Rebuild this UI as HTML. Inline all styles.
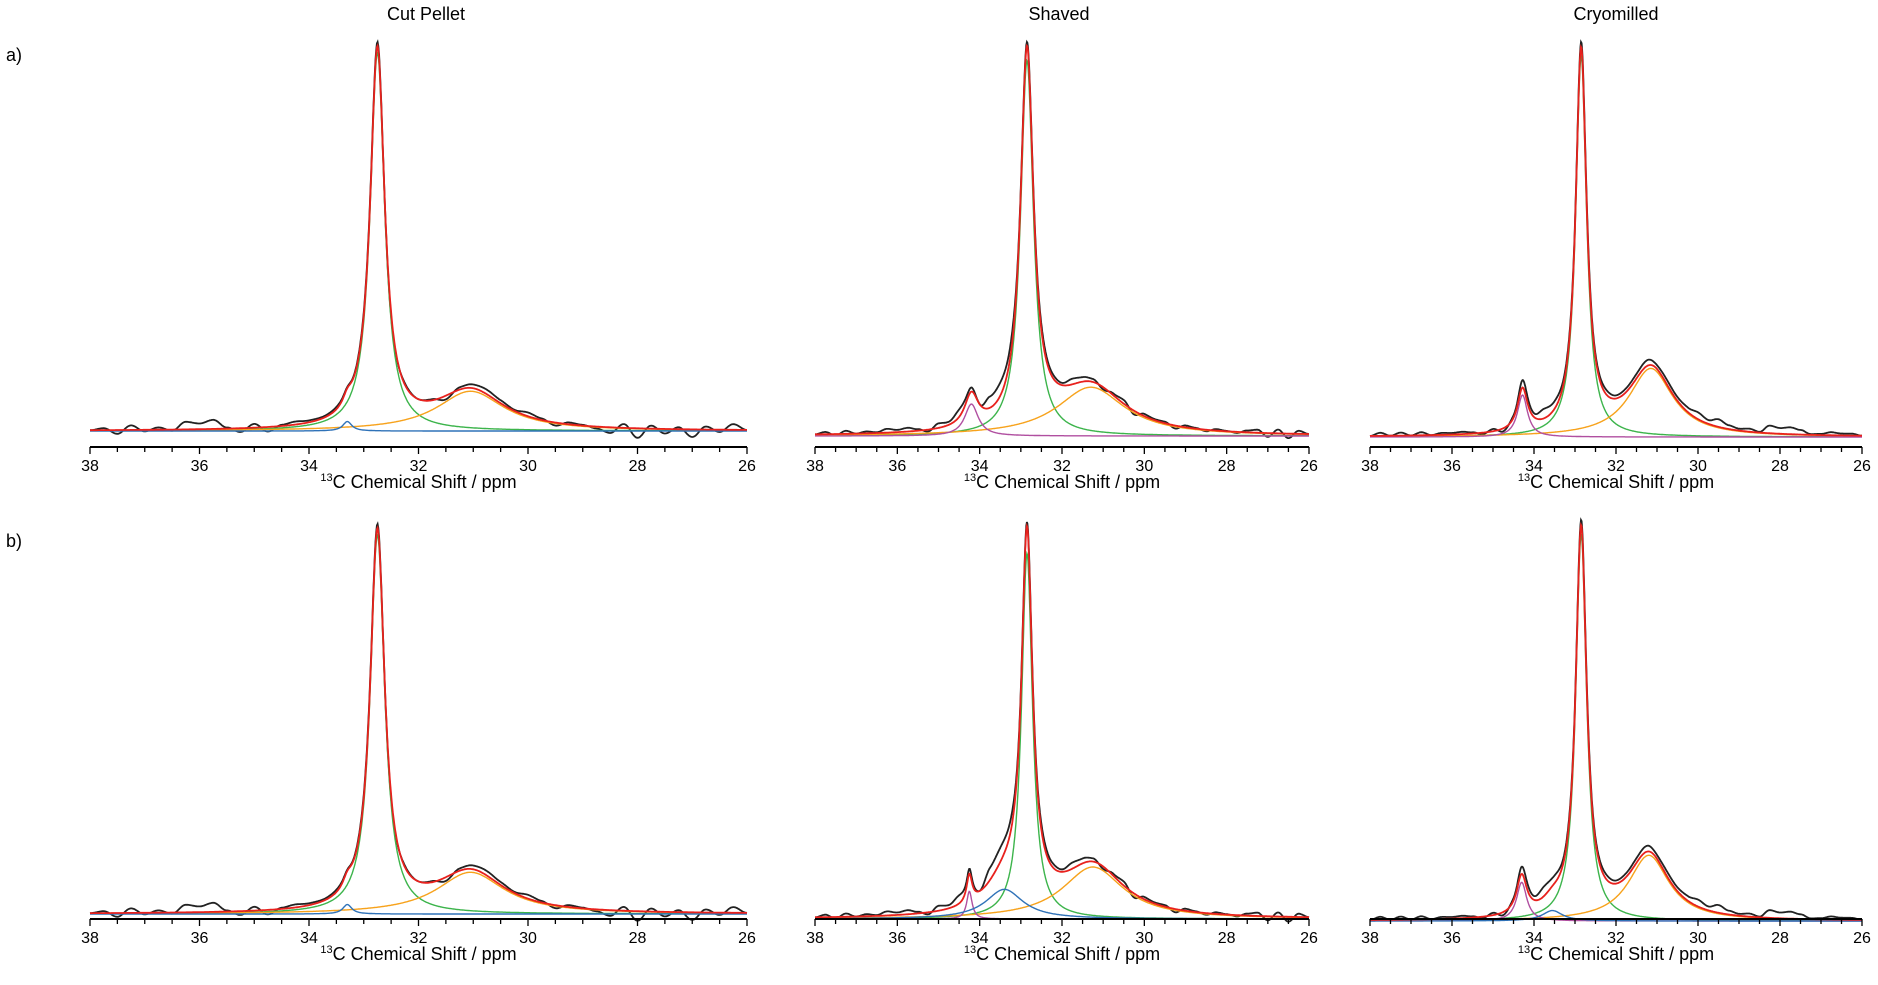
<!DOCTYPE html>
<html><head><meta charset="utf-8"><style>
body{margin:0;background:#fff;}
svg{display:block;font-family:"Liberation Sans",sans-serif;}
</style></head><body>
<svg id="fig" width="1878" height="985" viewBox="0 0 1878 985">
<text x="426" y="20" font-size="18" text-anchor="middle">Cut Pellet</text>
<text x="1059" y="20" font-size="18" text-anchor="middle">Shaved</text>
<text x="1616" y="20" font-size="18" text-anchor="middle">Cryomilled</text>
<text x="6" y="61" font-size="18">a)</text>
<text x="6" y="547" font-size="18">b)</text>
</svg>
<script>
// Peak fit components per panel: [center ppm, relative height, HWHM ppm]
const a1Peaks = [[32.75,1.0,0.16],[31.05,0.105,0.75],[33.3,0.025,0.1]];
const a2Peaks = [[32.85,1.0,0.19],[31.3,0.13,1.0],[34.2,0.085,0.2]];
const a3Peaks = [[32.85,1.0,0.16],[31.15,0.18,0.65],[34.28,0.11,0.15]];
const b1Peaks = [[32.75,1.0,0.16],[31.05,0.11,0.75],[33.3,0.025,0.1]];
const b2Peaks = [[32.85,0.9,0.16],[31.25,0.128,0.9],[34.25,0.068,0.08],[33.4,0.073,0.55]];
const b3Peaks = [[32.85,1.0,0.16],[31.2,0.17,0.6],[34.3,0.1,0.15],[33.55,0.027,0.3]];
const a1Colors = ['green','orange','blue'];
const a2Colors = ['green','orange','purple'];
const b2Colors = ['green','orange','purple','blue'];
// residual (experimental - fit) sampled every 0.25 ppm from 38 to 26
const resid1 = [0,0.005,-0.01,0.012,-0.004,0.006,-0.003,0.02,0.015,0.024,0.003,-0.01,0.01,-0.012,0.003,0.008,0.005,0.004,0.006,0.003,0.008,0.01,-0.01,0.004,0,0.003,-0.01,0.006,0.01,0.012,0.008,0.003,0.01,0.004,-0.008,0.005,0.002,-0.005,-0.015,0.01,-0.025,0.008,-0.012,0.005,-0.02,0.008,-0.006,0.015,0];
const resid2 = [0,0.006,-0.004,0.008,0,0.005,0.002,0.01,0.006,0.01,0.004,-0.005,0.012,0.008,0.02,0.012,0.0,0.03,0.035,0.03,0.01,0.01,0.015,0.01,0.006,0.015,0.012,0.008,-0.006,0.005,0.01,-0.01,0.006,0.003,0.004,-0.008,0.005,0.002,-0.004,0.004,0.001,-0.003,0.005,0.008,-0.01,0.01,-0.012,0.008,0];
const resid3 = [0,0.008,0,0.008,0,0.008,0,0.005,0.004,0.006,0.003,-0.004,0.006,-0.008,0.006,0.02,0.01,0.025,0.02,0.012,0.01,0.015,0.01,0.012,0.008,0.01,0.012,0.015,0.01,0.012,0.01,0.012,0.018,0.01,0.02,0.01,0.005,0.008,0.002,0.02,0.015,0.018,0.012,0.002,0.003,0.008,0.005,0.005,0];
const xTicks = [38,36,34,32,30,28,26];
const colorMap = {green:'#3cb44b',orange:'#f7a21b',blue:'#2f72b8',purple:'#b04fa0'};
const panels = [
 {id:'a1',peaks:a1Peaks,cols:a1Colors,res:resid1,x0:90,x1:747,axisY:447,base:431,h:389},
 {id:'a2',peaks:a2Peaks,cols:a2Colors,res:resid2,x0:815,x1:1309,axisY:447,base:436,h:394},
 {id:'a3',peaks:a3Peaks,cols:a2Colors,res:resid3,x0:1370,x1:1862,axisY:447,base:437,h:395},
 {id:'b1',peaks:b1Peaks,cols:a1Colors,res:resid1,x0:90,x1:747,axisY:919,base:914,h:390},
 {id:'b2',peaks:b2Peaks,cols:b2Colors,res:resid2,x0:815,x1:1309,axisY:919,base:919,h:397},
 {id:'b3',peaks:b3Peaks,cols:b2Colors,res:resid3,x0:1370,x1:1862,axisY:919,base:921,h:401}
];
const NS='http://www.w3.org/2000/svg';
const svg=document.getElementById('fig');
function mk(tag,attrs,parent){const e=document.createElementNS(NS,tag);for(const k in attrs)e.setAttribute(k,attrs[k]);(parent||svg).appendChild(e);return e;}
function lor(x,p){const d=(x-p[0])/p[2];return p[1]/(1+d*d);}
function resAt(r,x){const t=(38-x)/0.25;const i=Math.min(Math.floor(t),r.length-2);const f=t-i;const s=(1-Math.cos(Math.PI*f))/2;return r[i]*(1-s)+r[i+1]*s;}
panels.forEach(P=>{
 const g=mk('g',{});
 
 
 const N=900;const pts=[];for(let i=0;i<=N;i++)pts.push(38-12*i/N);
 const fit=x=>P.peaks.reduce((s,p)=>s+lor(x,p),0);
 let mx=0;pts.forEach(x=>{mx=Math.max(mx,fit(x)+resAt(P.res,x));});
 const k=P.h/mx;
 const xs=v=>P.x0+(38-v)/12*(P.x1-P.x0);
 const ys=v=>P.base-v*k;
 const path=f=>pts.map((x,i)=>(i?'L':'M')+xs(x).toFixed(1)+','+ys(f(x)).toFixed(1)).join('');
 const exp=mk('path',{d:path(x=>fit(x)+resAt(P.res,x)),fill:'none',stroke:'#222','stroke-width':1.8},g);
 
 
 P.peaks.forEach((p,j)=>{
  const c=mk('path',{d:path(x=>lor(x,p)),fill:'none',stroke:colorMap[P.cols[j]],'stroke-width':1.4},g);
  
  
 });
 const fl=mk('path',{d:path(fit),fill:'none',stroke:'#e8211d','stroke-width':1.8},g);
 
 
 const ax=mk('line',{x1:P.x0,x2:P.x1,y1:P.axisY,y2:P.axisY,stroke:'#000','stroke-width':2},g);
 
 
 for(let v=38;v>=26;v-=0.5){
  const major=Math.abs(v-Math.round(v/2)*2)<1e-6;
  const tk=mk('line',{x1:xs(v),x2:xs(v),y1:P.axisY,y2:P.axisY+(major?7:5),stroke:'#000','stroke-width':1.3},g);
  
  
 }
 xTicks.forEach(v=>{
  const t=mk('text',{x:xs(v),y:P.axisY+24,'font-size':16,'text-anchor':'middle'},g);
  t.textContent=v;
  
  
 });
 const tt=mk('text',{x:(P.x0+P.x1)/2,y:P.axisY+41,'font-size':18,'text-anchor':'middle'},g);
 
 
 const sup=mk('tspan',{'font-size':11,dy:-7},tt);sup.textContent='13';
 const rest=mk('tspan',{dy:7},tt);rest.textContent='C Chemical Shift / ppm';
});
</script>
</body></html>
